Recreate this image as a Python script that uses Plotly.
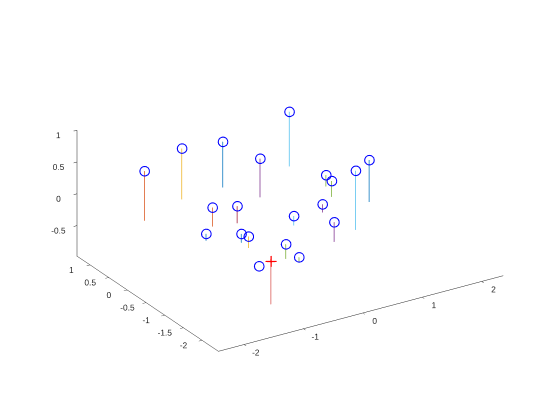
import plotly.graph_objects as go

# data (x, y, z of circle, z of stem bottom)
xs = [-1.78, -1.15, -0.65, -0.16, 0.52, -1.27, -1.06, -1.59, -1.28, -1.24,
      -0.44, -0.70, -0.66, -1.19, 0.34, 0.36, 0.72, 0.96, 0.23, 0.05]
ys = [0.58, 0.58, 0.28, 0.06, 0.36, -0.43, -0.76, -0.77, -1.22, -1.35,
      -1.29, -1.49, -1.78, -1.55, -0.91, -1.03, -1.10, -1.08, -0.99, -1.59]
z_top = [0.50, 0.70, 0.80, 0.50, 0.95, 0.20, 0.30, 0.00, 0.10, 0.10,
         0.20, -0.10, -0.20, -0.30, 0.50, 0.45, 0.55, 0.65, 0.10, 0.10]
z_bot = [-0.28, -0.10, 0.08, -0.11, 0.09, -0.10, 0.03, -0.11, -0.04, -0.08,
         0.05, -0.33, -0.27, -0.30, 0.32, 0.20, -0.38, -0.01, -0.03, -0.21]
stem_colors = ["#D95319", "#EDB120", "#0072BD", "#7E2F8E", "#4DBEEE",
               "#D95319", "#A2142F", "#0072BD", "#0072BD", "#EDB120",
               "#4DBEEE", "#77AC30", "#77AC30", "#0072BD", "#77AC30",
               "#77AC30", "#4DBEEE", "#0072BD", "#7E2F8E", "#7E2F8E"]

# query point (red plus) and its stem
qx = [-1.07]
qy = [-1.68]
qz_top = [-0.20]
qz_bot = [-0.88]

x_range = [-2.43, 2.36]
y_range = [-2.44, 1.35]
z_range = [-0.98, 1.0]

x_ticks = [-2, -1, 0, 1, 2]
y_ticks = [-2, -1.5, -1, -0.5, 0, 0.5, 1]
z_ticks = [-0.5, 0, 0.5, 1]

def lab(v):
    return "%g" % v

fig = go.Figure()

for i in range(len(xs)):
    fig.add_trace(go.Scatter3d(
        x=[xs[i], xs[i]], y=[ys[i], ys[i]], z=[z_top[i], z_bot[i]],
        mode="lines", line=dict(color=stem_colors[i], width=1.5),
        showlegend=False, hoverinfo="skip"))

fig.add_trace(go.Scatter3d(
    x=[qx[0], qx[0]], y=[qy[0], qy[0]], z=[qz_top[0], qz_bot[0]],
    mode="lines", line=dict(color="#D9534F", width=1.5),
    showlegend=False, hoverinfo="skip"))

fig.add_trace(go.Scatter3d(
    x=xs, y=ys, z=z_top, mode="markers",
    marker=dict(symbol="circle-open", size=6, color="#0000FF"),
    showlegend=False))

fig.add_trace(go.Scatter3d(
    x=qx, y=qy, z=qz_top, mode="markers",
    marker=dict(symbol="cross", size=6, color="#FF0000"),
    showlegend=False))

def ax(rng, ticks):
    return dict(
        range=rng, autorange=False,
        tickvals=ticks, ticktext=[lab(t) for t in ticks],
        tickangle=0,
        showgrid=False, zeroline=False, showbackground=False,
        showspikes=False, showline=True, linecolor="#262626", linewidth=1,
        ticks="outside", ticklen=4, tickcolor="#262626",
        tickfont=dict(family="Liberation Sans, Arial, sans-serif", size=10, color="#262626"),
        title=dict(text=""))

xr = x_range[1] - x_range[0]
yr = y_range[1] - y_range[0]
zr = z_range[1] - z_range[0]

s = 1.664
k = 2.0
fig.update_layout(
    width=560, height=420,
    paper_bgcolor="white",
    margin=dict(l=0, r=0, t=0, b=0),
    scene=dict(
        domain=dict(x=[0.036, 1.0], y=[0.038, 1.0]),
        xaxis=ax(x_range, x_ticks),
        yaxis=ax(y_range, y_ticks),
        zaxis=ax(z_range, z_ticks),
        aspectmode="manual",
        aspectratio=dict(x=s, y=s * yr / xr, z=s * zr / xr),
        camera=dict(
            projection=dict(type="orthographic"),
            up=dict(x=0, y=0, z=1),
            center=dict(x=0.033, y=-0.0215, z=-0.038),
            eye=dict(x=-0.4691 * k, y=-0.7839 * k, z=0.4067 * k)),
    ),
)

fig.write_html("out.html")
